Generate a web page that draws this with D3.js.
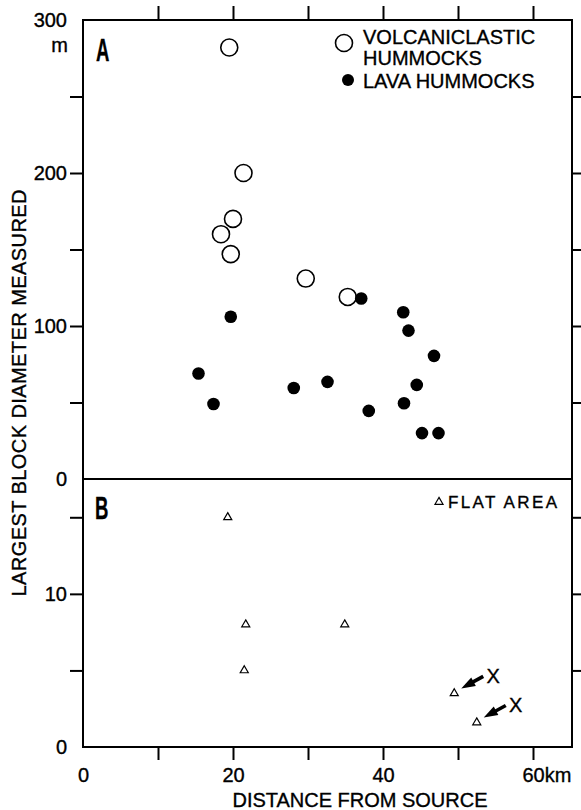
<!DOCTYPE html>
<html>
<head>
<meta charset="utf-8">
<script src="https://cdn.jsdelivr.net/npm/d3@7.9.0/dist/d3.min.js"></script>
<style>
  html, body { margin: 0; padding: 0; background: #fff; }
  svg { display: block; font-family: "Liberation Sans", Arial, sans-serif; }
  svg text { stroke: #000; stroke-width: 0.35; }
  .tick text { font-size: 20px; fill: #000; }
  .tick line { stroke: #000; stroke-width: 2; }
</style>
</head>
<body>
<svg id="chart" width="581" height="810"></svg>
<script>
// ---- data ----
// panel A: volcaniclastic hummocks (open circles)
const volcDist = [19.5, 21.4, 20.0, 18.4, 19.7, 29.7, 35.3];
const volcSize = [282, 200, 170, 160, 147, 131, 119];

// panel A: lava hummocks (filled circles)
const lavaDist = [19.7, 15.4, 17.4, 28.1, 32.6, 37.1, 42.7, 43.4, 46.8, 44.5, 38.1, 42.8, 45.2, 47.4];
const lavaSize = [106, 69, 49, 59.5, 63.5, 118, 109, 97, 80.5, 61.5, 44.5, 49.5, 30, 30];

// panel B: flat area (triangles)
const flatDist = [19.3, 21.7, 21.5, 34.9, 49.5, 52.5];
const flatSize = [15.0, 8.0, 5.0, 8.0, 3.5, 1.6];
const flatMarked = [4, 5]; // points flagged with "X"

const xTicks = [10, 20, 30, 40, 50, 60];
const xLabels = [0, 20, 40, 60];
const yTicksA = [50, 100, 150, 200, 250];
const yLabelsA = [0, 100, 200, 300];
const yTicksB = [5, 10, 15];
const yLabelsB = [0, 10];

// ---- layout ----
const plotLeft = 83, plotRight = 572, plotTop = 20, plotMid = 479, plotBottom = 747;

const svg = d3.select("#chart");

const x = d3.scaleLinear().domain([0, 65.2]).range([plotLeft, plotRight]);
const yA = d3.scaleLinear().domain([0, 300]).range([plotMid, plotTop]);
const yB = d3.scaleLinear().domain([0, 17.5]).range([plotBottom, plotMid]);

function cleanAxis(g) {
  g.select(".domain").remove();
  g.attr("font-family", null).attr("font-size", null);
}

// ticks only
svg.append("g").attr("transform", `translate(0,${plotTop})`)
  .call(d3.axisTop(x).tickValues(xTicks).tickSize(14).tickFormat(""))
  .call(cleanAxis);
svg.append("g").attr("transform", `translate(0,${plotBottom})`)
  .call(d3.axisBottom(x).tickValues(xTicks).tickSize(13).tickFormat(""))
  .call(cleanAxis);
svg.append("g").attr("transform", `translate(${plotLeft},0)`)
  .call(d3.axisLeft(yA).tickValues(yTicksA).tickSize(13).tickFormat(""))
  .call(cleanAxis);
svg.append("g").attr("transform", `translate(${plotLeft},0)`)
  .call(d3.axisLeft(yB).tickValues(yTicksB).tickSize(13).tickFormat(""))
  .call(cleanAxis);
svg.append("g").attr("transform", `translate(${plotRight},0)`)
  .call(d3.axisRight(yA).tickValues(yTicksA).tickSize(9).tickFormat(""))
  .call(cleanAxis);
svg.append("g").attr("transform", `translate(${plotRight},0)`)
  .call(d3.axisRight(yB).tickValues(yTicksB).tickSize(9).tickFormat(""))
  .call(cleanAxis);

// labels only
const xLab = svg.append("g").attr("transform", `translate(0,${plotBottom})`)
  .call(d3.axisBottom(x).tickValues(xLabels).tickSize(0).tickPadding(21))
  .call(cleanAxis);
xLab.selectAll(".tick text")
  .filter((d) => d === 60)
  .attr("text-anchor", "start")
  .attr("x", -11)
  .text("60km");

svg.append("g").attr("transform", `translate(${plotLeft},0)`)
  .call(d3.axisLeft(yA).tickValues(yLabelsA).tickSize(0).tickPadding(16))
  .call(cleanAxis);
svg.append("g").attr("transform", `translate(${plotLeft},0)`)
  .call(d3.axisLeft(yB).tickValues(yLabelsB).tickSize(0).tickPadding(16))
  .call(cleanAxis);

svg.append("text").attr("x", plotLeft - 15).attr("y", yA(300) + 32)
  .attr("text-anchor", "end").attr("font-size", 20).text("m");

// frame + divider
svg.append("rect")
  .attr("x", plotLeft).attr("y", plotTop)
  .attr("width", plotRight - plotLeft).attr("height", plotBottom - plotTop)
  .attr("fill", "none").attr("stroke", "#000").attr("stroke-width", 2);
svg.append("line")
  .attr("x1", plotLeft).attr("x2", plotRight).attr("y1", plotMid).attr("y2", plotMid)
  .attr("stroke", "#000").attr("stroke-width", 2);

// panel letters
function panelLetter(txt, px, py) {
  svg.append("text")
    .attr("transform", `translate(${px},${py}) scale(0.58,1)`)
    .attr("font-size", 32).attr("font-weight", "bold")
    .text(txt);
}
panelLetter("A", 96, 61);
panelLetter("B", 95, 519);

// axis titles
svg.append("text")
  .attr("x", 360).attr("y", 807)
  .attr("text-anchor", "middle").attr("font-size", 20)
  .attr("textLength", 255)
  .text("DISTANCE FROM SOURCE");
svg.append("text")
  .attr("transform", "translate(26,393) rotate(-90)")
  .attr("text-anchor", "middle").attr("font-size", 20)
  .attr("textLength", 407)
  .text("LARGEST BLOCK DIAMETER MEASURED");

// ---- marks ----
const volc = volcDist.map((d, i) => ({ x: d, y: volcSize[i] }));
const lava = lavaDist.map((d, i) => ({ x: d, y: lavaSize[i] }));
const flat = flatDist.map((d, i) => ({ x: d, y: flatSize[i] }));

svg.append("g").selectAll("circle")
  .data(volc).join("circle")
  .attr("cx", (d) => x(d.x)).attr("cy", (d) => yA(d.y))
  .attr("r", 8.5)
  .attr("fill", "#fff").attr("stroke", "#000").attr("stroke-width", 1.6);

svg.append("g").selectAll("circle")
  .data(lava).join("circle")
  .attr("cx", (d) => x(d.x)).attr("cy", (d) => yA(d.y))
  .attr("r", 6.3)
  .attr("fill", "#000");

const tri = d3.symbol().type(d3.symbolTriangle).size(28);
svg.append("g").selectAll("path")
  .data(flat).join("path")
  .attr("transform", (d) => `translate(${x(d.x)},${yB(d.y)})`)
  .attr("d", tri)
  .attr("fill", "#fff").attr("stroke", "#000").attr("stroke-width", 1.2);

// arrows pointing to flagged points
const arrowG = svg.append("g");
flatMarked.forEach((i) => {
  const px = x(flat[i].x), py = yB(flat[i].y);
  const tip = [px + 7, py - 5], tail = [px + 29, py - 17];
  const ang = Math.atan2(tail[1] - tip[1], tail[0] - tip[0]);
  const hl = 14, hw = 4.8;
  const bx = tip[0] + hl * Math.cos(ang), by = tip[1] + hl * Math.sin(ang);
  arrowG.append("line")
    .attr("x1", bx - 2 * Math.cos(ang)).attr("y1", by - 2 * Math.sin(ang))
    .attr("x2", tail[0]).attr("y2", tail[1])
    .attr("stroke", "#000").attr("stroke-width", 3.6);
  arrowG.append("path")
    .attr("d", `M${tip[0]},${tip[1]}L${bx - hw * Math.sin(ang)},${by + hw * Math.cos(ang)}L${bx + hw * Math.sin(ang)},${by - hw * Math.cos(ang)}Z`)
    .attr("fill", "#000");
  arrowG.append("text")
    .attr("x", px + 39).attr("y", py - 10)
    .attr("text-anchor", "middle").attr("font-size", 20)
    .text("X");
});

// legends
const legA = svg.append("g");
legA.append("circle").attr("cx", 344).attr("cy", 43).attr("r", 8.5)
  .attr("fill", "#fff").attr("stroke", "#000").attr("stroke-width", 1.6);
legA.append("circle").attr("cx", 348).attr("cy", 80).attr("r", 6)
  .attr("fill", "#000");
legA.append("text").attr("x", 363).attr("y", 44).attr("font-size", 20).text("VOLCANICLASTIC");
legA.append("text").attr("x", 363).attr("y", 65).attr("font-size", 20).text("HUMMOCKS");
legA.append("text").attr("x", 363).attr("y", 88).attr("font-size", 20).text("LAVA HUMMOCKS");

const legB = svg.append("g");
legB.append("path").attr("transform", "translate(439,502)").attr("d", tri)
  .attr("fill", "#fff").attr("stroke", "#000").attr("stroke-width", 1.2);
legB.append("text").attr("x", 448).attr("y", 508).attr("font-size", 17)
  .attr("textLength", 109).text("FLAT AREA");
</script>
</body>
</html>
